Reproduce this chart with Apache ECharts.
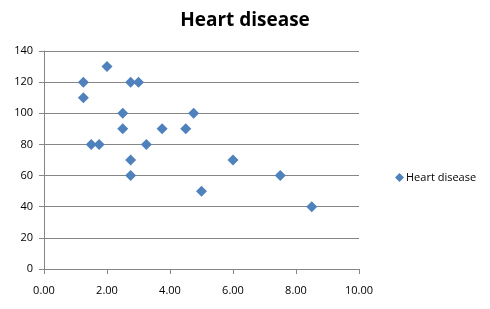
<!DOCTYPE html>
<html>
<head>
<meta charset="utf-8">
<script src="https://cdn.jsdelivr.net/npm/echarts@6/dist/echarts.min.js"></script>
<style>
  html, body { margin: 0; padding: 0; background: #fff; }
  #chart { width: 490px; height: 309px; }
</style>
</head>
<body>
<div id="chart"></div>
<script>
// 数据：x 值与 y 值
var xValues = [1.25, 1.25, 2, 1.5, 1.75, 2.5, 2.5, 2.75, 3, 2.75, 2.75, 3.25, 3.75, 4.5, 4.75, 5, 6, 7.5, 8.5];
var yValues = [120, 110, 130, 80, 80, 100, 90, 120, 120, 70, 60, 80, 90, 90, 100, 50, 70, 60, 40];
var seriesName = 'Heart disease';

var points = [];
for (var i = 0; i < xValues.length; i++) {
  points.push([xValues[i], yValues[i]]);
}

var myChart = echarts.init(document.getElementById('chart'));
var axisFont = { fontFamily: 'Open Sans', fontSize: 11, color: '#000' };
var option = {
  animation: false,
  title: {
    text: 'Heart disease',
    left: 'center',
    top: 6,
    textStyle: { fontFamily: 'Open Sans', fontWeight: 'bold', fontSize: 19, color: '#000' }
  },
  legend: {
    data: [seriesName],
    orient: 'vertical',
    left: 390,
    top: 167,
    icon: 'diamond',
    itemWidth: 9,
    itemHeight: 9,
    itemGap: 4,
    textStyle: { fontFamily: 'Open Sans', fontSize: 11, color: '#000', padding: [0, 0, 0, -3] }
  },
  grid: { left: 44, right: 131, top: 51, bottom: 40 },
  xAxis: {
    type: 'value',
    min: 0,
    max: 10,
    interval: 2,
    axisLine: { show: true, lineStyle: { color: '#868686' } },
    axisTick: { show: true, length: 5, lineStyle: { color: '#868686' } },
    splitLine: { show: false },
    axisLabel: Object.assign({ margin: 16, formatter: function (v) { return v.toFixed(2); } }, axisFont)
  },
  yAxis: {
    type: 'value',
    min: 0,
    max: 140,
    interval: 20,
    axisLine: { show: true, lineStyle: { color: '#868686' } },
    axisTick: { show: true, length: 5, lineStyle: { color: '#868686' } },
    splitLine: { show: true, lineStyle: { color: '#868686' } },
    axisLabel: Object.assign({ margin: 11 }, axisFont)
  },
  series: [
    {
      name: seriesName,
      type: 'scatter',
      symbol: 'diamond',
      symbolSize: 11,
      itemStyle: { color: '#4F81BD', opacity: 1 },
      data: points
    }
  ]
};
myChart.setOption(option);
</script>
</body>
</html>
